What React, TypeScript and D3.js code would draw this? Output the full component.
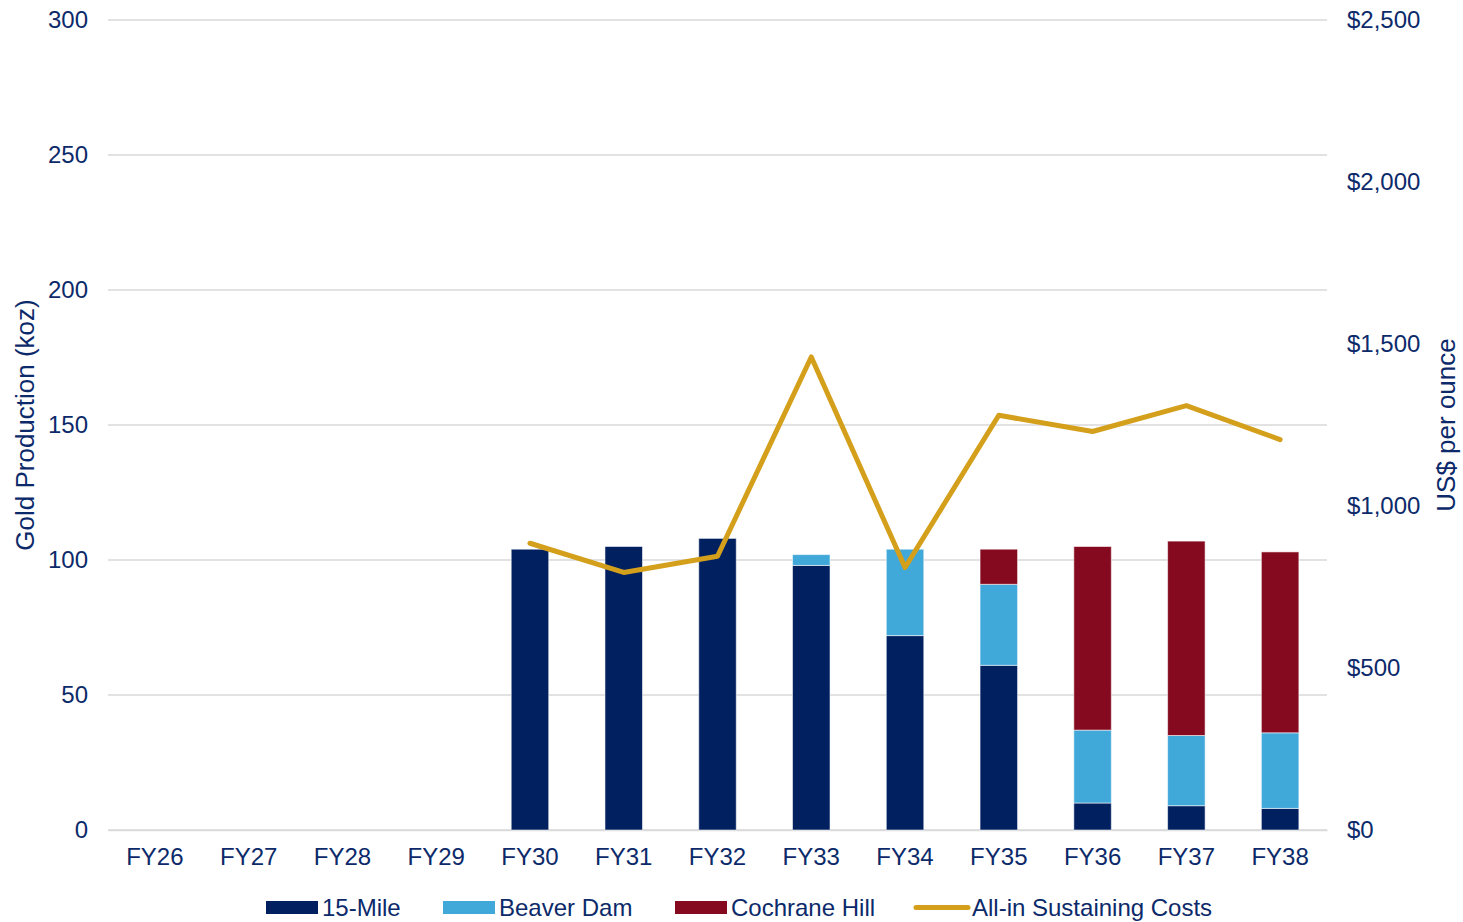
import * as d3 from "d3";
import { useEffect, useRef } from "react";

const categories = ["FY26", "FY27", "FY28", "FY29", "FY30", "FY31", "FY32", "FY33", "FY34", "FY35", "FY36", "FY37", "FY38"];
const fifteenMile = [0, 0, 0, 0, 104, 105, 108, 98, 72, 61, 10, 9, 8];
const beaverDam = [0, 0, 0, 0, 0, 0, 0, 4, 32, 30, 27, 26, 28];
const cochraneHill = [0, 0, 0, 0, 0, 0, 0, 0, 0, 13, 68, 72, 67];
const aisc: (number | null)[] = [null, null, null, null, 885, 795, 845, 1460, 810, 1280, 1230, 1310, 1205];
const leftTicks = [0, 50, 100, 150, 200, 250, 300];
const rightTicks = [0, 500, 1000, 1500, 2000, 2500];

const seriesKeys = ["15-Mile", "Beaver Dam", "Cochrane Hill"];
const seriesColors = ["#002060", "#41A8DA", "#860A1F"];
const lineColor = "#D4A01C";
const textColor = "#0C2A6A";
const font = "Arial, 'Liberation Sans', sans-serif";

export default function App(): JSX.Element {
  const svgRef = useRef<SVGSVGElement>(null);

  useEffect(() => {
    document.body.style.margin = "0";
    if (!svgRef.current) return;

    const width = 1463;
    const height = 922;
    const margin = { top: 20, right: 136, bottom: 92, left: 108 };

    const svg = d3.select(svgRef.current);
    svg.selectAll("*").remove();
    svg.attr("width", width).attr("height", height);

    const x = d3
      .scaleBand()
      .domain(categories)
      .range([margin.left, width - margin.right])
      .paddingInner(0.6)
      .paddingOuter(0.3);

    const y = d3.scaleLinear().domain([0, 300]).range([height - margin.bottom, margin.top]);
    const yRight = d3.scaleLinear().domain([0, 2500]).range([height - margin.bottom, margin.top]);

    // gridlines
    svg
      .append("g")
      .selectAll("line")
      .data(leftTicks)
      .join("line")
      .attr("x1", margin.left)
      .attr("x2", width - margin.right)
      .attr("y1", (d) => y(d))
      .attr("y2", (d) => y(d))
      .attr("stroke", "#d9d9d9")
      .attr("stroke-width", 1.5);

    // left axis labels
    svg
      .append("g")
      .attr("transform", `translate(${margin.left},0)`)
      .call(d3.axisLeft(y).tickValues(leftTicks).tickSize(0).tickPadding(20))
      .call((g) => g.select(".domain").remove())
      .selectAll("text")
      .style("font-size", "24px")
      .style("font-family", font)
      .style("fill", textColor);

    // right axis labels
    svg
      .append("g")
      .attr("transform", `translate(${width - margin.right},0)`)
      .call(
        d3
          .axisRight(yRight)
          .tickValues(rightTicks)
          .tickSize(0)
          .tickPadding(20)
          .tickFormat((d) => `$${d3.format(",")(Number(d))}`)
      )
      .call((g) => g.select(".domain").remove())
      .selectAll("text")
      .style("font-size", "24px")
      .style("font-family", font)
      .style("fill", textColor);

    // x axis
    svg
      .append("g")
      .attr("transform", `translate(0,${height - margin.bottom})`)
      .call(d3.axisBottom(x).tickSize(0).tickPadding(18))
      .call((g) => g.select(".domain").attr("stroke", "#d9d9d9").attr("stroke-width", 1.5))
      .selectAll("text")
      .style("font-size", "24px")
      .style("font-family", font)
      .style("fill", textColor);

    // stacked bars
    const rows = categories.map((c, i) => ({
      cat: c,
      "15-Mile": fifteenMile[i],
      "Beaver Dam": beaverDam[i],
      "Cochrane Hill": cochraneHill[i],
    }));
    const stacked = d3.stack<any>().keys(seriesKeys)(rows);

    stacked.forEach((layer, li) => {
      svg
        .append("g")
        .selectAll("rect")
        .data(layer.filter((d) => d[1] - d[0] > 0))
        .join("rect")
        .attr("x", (d) => x(d.data.cat)!)
        .attr("width", x.bandwidth())
        .attr("y", (d) => y(d[1]))
        .attr("height", (d) => y(d[0]) - y(d[1]))
        .attr("fill", seriesColors[li])
        .attr("stroke", "rgba(255,255,255,0.55)")
        .attr("stroke-width", 1);
    });

    // AISC line
    const lineData = categories
      .map((c, i) => ({ cat: c, v: aisc[i] }))
      .filter((d) => d.v !== null) as { cat: string; v: number }[];

    const lineGen = d3
      .line<{ cat: string; v: number }>()
      .x((d) => x(d.cat)! + x.bandwidth() / 2)
      .y((d) => yRight(d.v));

    svg
      .append("path")
      .datum(lineData)
      .attr("d", lineGen)
      .attr("fill", "none")
      .attr("stroke", lineColor)
      .attr("stroke-width", 5)
      .attr("stroke-linejoin", "round")
      .attr("stroke-linecap", "round");

    // axis titles
    svg
      .append("text")
      .attr("transform", `translate(34,${(margin.top + height - margin.bottom) / 2}) rotate(-90)`)
      .attr("text-anchor", "middle")
      .style("font-size", "26px")
      .style("font-family", font)
      .style("fill", textColor)
      .text("Gold Production (koz)");

    svg
      .append("text")
      .attr("transform", `translate(1455,${(margin.top + height - margin.bottom) / 2}) rotate(-90)`)
      .attr("text-anchor", "middle")
      .style("font-size", "26px")
      .style("font-family", font)
      .style("fill", textColor)
      .text("US$ per ounce");

    // legend
    const legendItems = [
      { label: "15-Mile", color: seriesColors[0], type: "rect", x: 266 },
      { label: "Beaver Dam", color: seriesColors[1], type: "rect", x: 443 },
      { label: "Cochrane Hill", color: seriesColors[2], type: "rect", x: 675 },
      { label: "All-in Sustaining Costs", color: lineColor, type: "line", x: 916 },
    ];
    const legend = svg.append("g");
    for (const item of legendItems) {
      if (item.type === "rect") {
        legend
          .append("rect")
          .attr("x", item.x)
          .attr("y", 901)
          .attr("width", 52)
          .attr("height", 13)
          .attr("fill", item.color);
      } else {
        legend
          .append("line")
          .attr("x1", item.x)
          .attr("x2", item.x + 52)
          .attr("y1", 907.5)
          .attr("y2", 907.5)
          .attr("stroke", item.color)
          .attr("stroke-width", 5)
          .attr("stroke-linecap", "round");
      }
      legend
        .append("text")
        .attr("x", item.x + 56)
        .attr("y", 916)
        .style("font-size", "24px")
        .style("font-family", font)
        .style("fill", textColor)
        .text(item.label);
    }
  }, []);

  return <svg ref={svgRef} style={{ display: "block" }} />;
}
